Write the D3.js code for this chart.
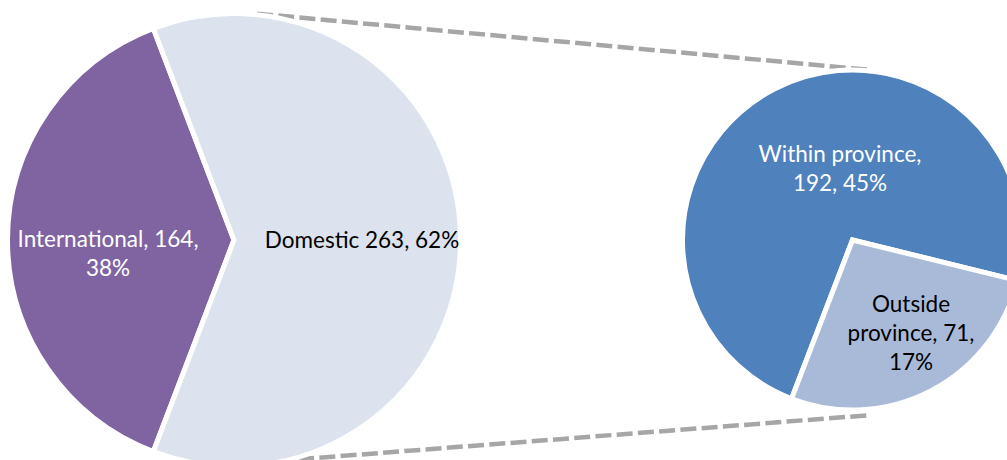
<!DOCTYPE html>
<html>
<head>
<meta charset="utf-8">
<script src="https://cdn.jsdelivr.net/npm/d3@7"></script>
<style>
  html, body { margin: 0; padding: 0; background: #fff; }
  svg { display: block; }
  text { font-family: Lato, "Noto Sans", sans-serif; font-size: 22.5px; }
</style>
</head>
<body>
<svg id="chart" width="1007" height="460"></svg>
<script>
// Main split: where the visitors came from
const mainCategories = ["International", "Domestic"];
const mainValues = [164, 263];
// Breakdown of the domestic share
const subCategories = ["Within province", "Outside province"];
const subValues = [192, 71];

const total = d3.sum(mainValues);
const pct = v => Math.round(v / total * 100);

// Label text, one array entry per line
const mainLabelLines = [
  (v) => [`International, ${v},`, `${pct(v)}%`],
  (v) => [`Domestic ${v}, ${pct(v)}%`]
];
const subLabelLines = [
  (v) => [`Within province,`, `${v}, ${pct(v)}%`],
  (v) => [`Outside`, `province, ${v},`, `${pct(v)}%`]
];

const mainColors = ["#8064A2", "#DCE2EE"];
const subColors = ["#4F81BD", "#A9BAD8"];
const mainText = ["#fff", "#000"];
const subText = ["#fff", "#000"];

const svg = d3.select("#chart");
const deg = Math.PI / 180;
const lineH = 29;

// Geometry of the two pies
const big = { cx: 234, cy: 240, r: 226.5 };
const small = { cx: 852.5, cy: 240, r: 170 };

// Label anchors (first baseline) relative to each pie centre
const mainLabelPos = [{ dx: -126, dy: 7 }, { dx: 128, dy: 8 }];
const subLabelPos = [{ dx: -12.5, dy: -78 }, { dx: 58.5, dy: 72 }];

const polar = (c, a, r) => [c.cx + r * Math.sin(a), c.cy - r * Math.cos(a)];

// Dashed series lines joining the pies, drawn underneath them
const connectors = [
  [polar(big, 5.8 * deg, big.r + 1), polar(small, 4.9 * deg, small.r + 1)],
  [polar(big, 163.7 * deg, big.r + 2), polar(small, 175.1 * deg, small.r + 6)]
];
svg.append("g").selectAll("line").data(connectors).join("line")
  .attr("x1", d => d[0][0]).attr("y1", d => d[0][1])
  .attr("x2", d => d[1][0]).attr("y2", d => d[1][1])
  .attr("stroke", "#A6A6A6")
  .attr("stroke-width", 4.5)
  .attr("stroke-dasharray", "16,5.3");

function drawPie(center, values, colors, startDeg, labelFns, labelPos, textColors) {
  const pie = d3.pie().sort(null)
    .startAngle(startDeg * deg)
    .endAngle(startDeg * deg + 2 * Math.PI);
  const arc = d3.arc().innerRadius(0).outerRadius(center.r);
  const g = svg.append("g").attr("transform", `translate(${center.cx},${center.cy})`);
  g.selectAll("path").data(pie(values)).join("path")
    .attr("d", arc)
    .attr("fill", (d, i) => colors[i])
    .attr("stroke", "#fff")
    .attr("stroke-width", 5)
    .attr("stroke-linejoin", "miter");
  const labels = g.selectAll("text.lbl").data(values).join("text")
    .attr("class", "lbl")
    .attr("text-anchor", "middle")
    .attr("fill", (d, i) => textColors[i])
    .attr("x", (d, i) => labelPos[i].dx)
    .attr("y", (d, i) => labelPos[i].dy);
  labels.each(function (v, i) {
    d3.select(this).selectAll("tspan").data(labelFns[i](v)).join("tspan")
      .attr("x", labelPos[i].dx)
      .attr("dy", (t, j) => j === 0 ? 0 : lineH)
      .text(t => t);
  });
}

// International centred on the left, so it starts half its sweep before 270°
const intlSweep = mainValues[0] / total * 360;
drawPie(big, mainValues, mainColors, 270 - intlSweep / 2, mainLabelLines, mainLabelPos, mainText);
drawPie(small, subValues, subColors, 201, subLabelLines, subLabelPos, subText);
</script>
</body>
</html>
